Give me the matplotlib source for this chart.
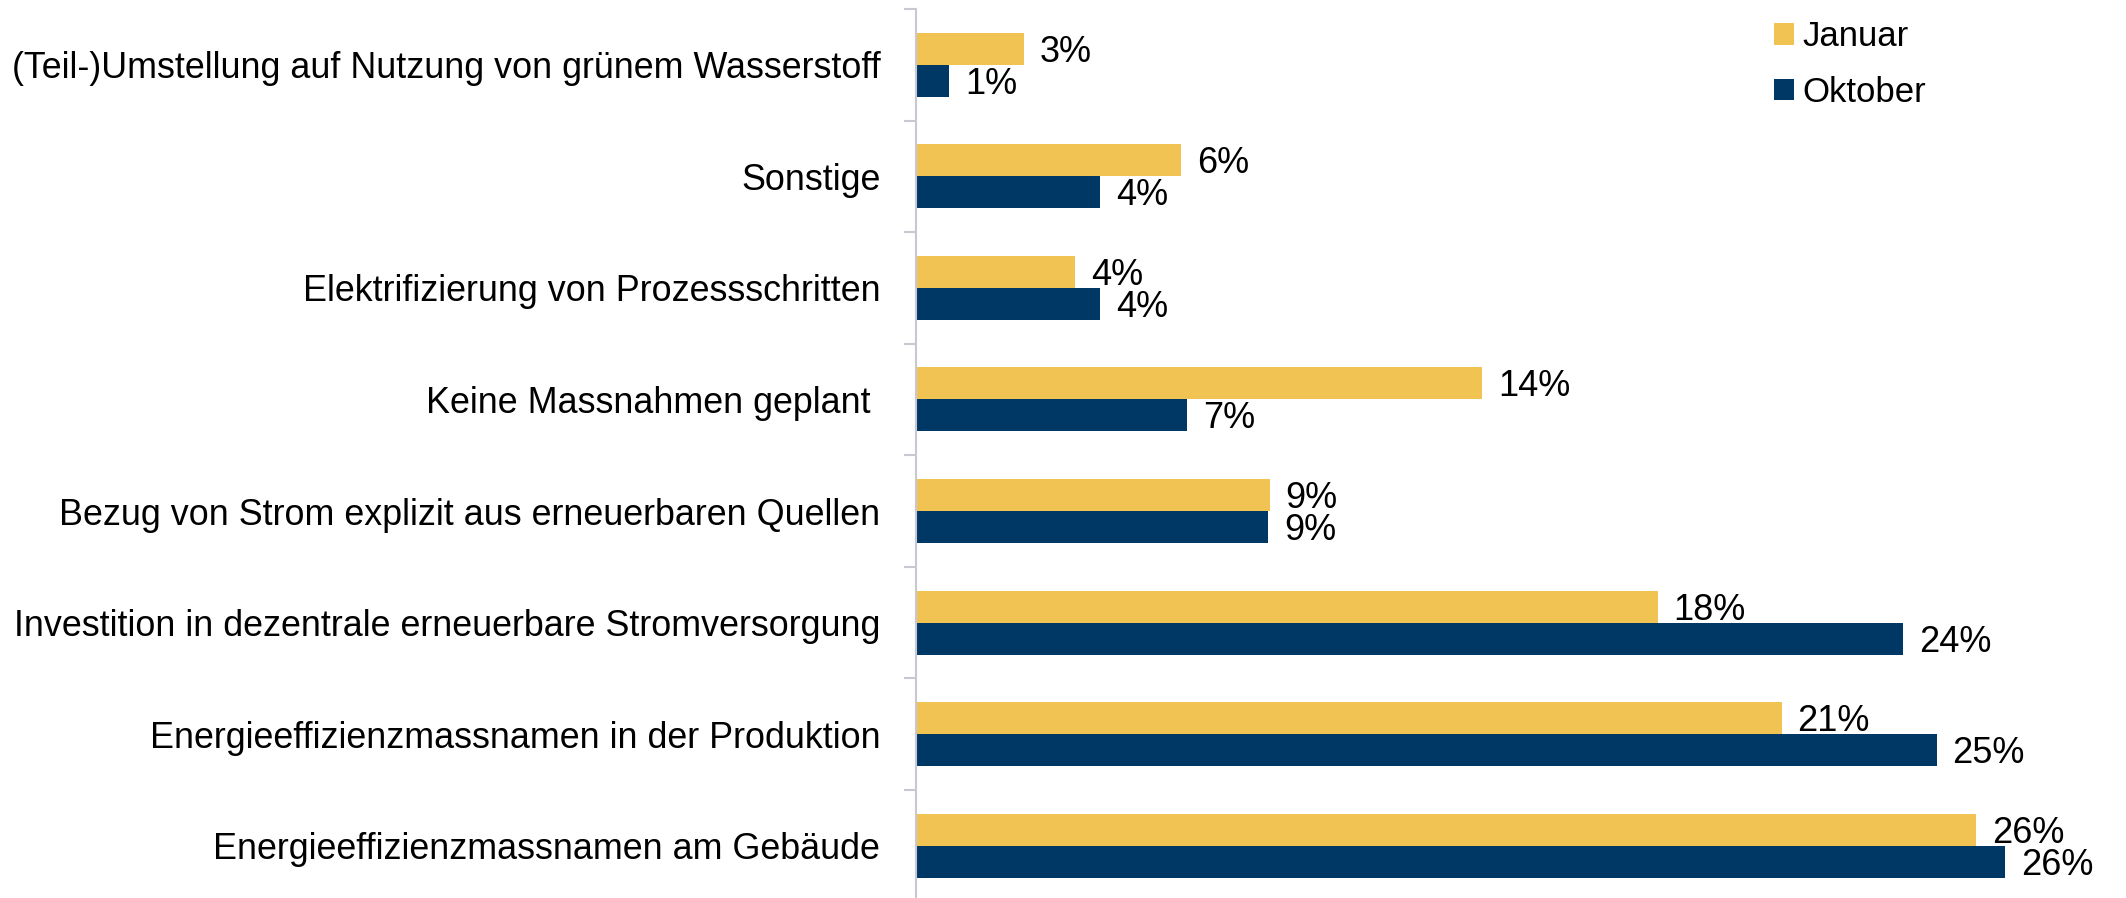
import numpy as np
import matplotlib.pyplot as plt

categories = [
    "(Teil-)Umstellung auf Nutzung von grünem Wasserstoff",
    "Sonstige",
    "Elektrifizierung von Prozessschritten",
    "Keine Massnahmen geplant ",
    "Bezug von Strom explizit aus erneuerbaren Quellen",
    "Investition in dezentrale erneuerbare Stromversorgung",
    "Energieeffizienzmassnamen in der Produktion",
    "Energieeffizienzmassnamen am Gebäude",
]
januar = [2.6, 6.4, 3.85, 13.7, 8.55, 17.95, 20.95, 25.65]
oktober = [0.8, 4.45, 4.45, 6.55, 8.52, 23.9, 24.7, 26.35]
series_names = ["Januar", "Oktober"]

col_jan = "#F1C353"
col_okt = "#003865"
axis_col = "#C8C8D2"

plt.rcParams['font.family'] = ['Liberation Sans', 'DejaVu Sans']

fig = plt.figure(figsize=(21.26, 8.98), dpi=100)
ax = fig.add_axes([916.4 / 2126, -3.5 / 898, 1 - 916.4 / 2126, 892.5 / 898])

y = np.arange(len(categories))
h = 0.287
ax.barh(y - h / 2, januar, height=h, color=col_jan, label=series_names[0])
ax.barh(y + h / 2, oktober, height=h, color=col_okt, label=series_names[1])

fs = 25.8
for i in range(len(categories)):
    for val, off in ((januar[i], -h / 2), (oktober[i], h / 2)):
        ax.annotate(f"{val:.0f}%", (val, y[i] + off), xytext=(11.5, -2.5),
                    textcoords="offset points", ha="left", va="center",
                    fontsize=26, color="black")

ax.set_ylim(len(categories) - 0.5, -0.5)
ax.set_xlim(0, 1209.6 / 41.3)

ax.set_yticks(y)
ax.set_yticklabels(categories, fontsize=fs)
ax.tick_params(axis="y", which="major", length=0, pad=26)
ax.set_yticks(np.arange(-0.5, len(categories), 1.0), minor=True)
ax.tick_params(axis="y", which="minor", length=8.4, width=1.5, color=axis_col)
ax.set_xticks([])

for s in ("top", "right", "bottom"):
    ax.spines[s].set_visible(False)
ax.spines["left"].set_color(axis_col)
ax.spines["left"].set_linewidth(1.5)
ax.spines["left"].set_bounds(-0.5 + 1e-3, len(categories) - 0.5)

fig.legend(loc="upper left", bbox_to_anchor=(1774 / 2126, 1 - 20 / 898),
           frameon=False, fontsize=25, borderpad=0, borderaxespad=0,
           handlelength=0.58, handleheight=0.58, handletextpad=0.25,
           labelspacing=0.66)

fig.savefig("out.png", dpi=100)
